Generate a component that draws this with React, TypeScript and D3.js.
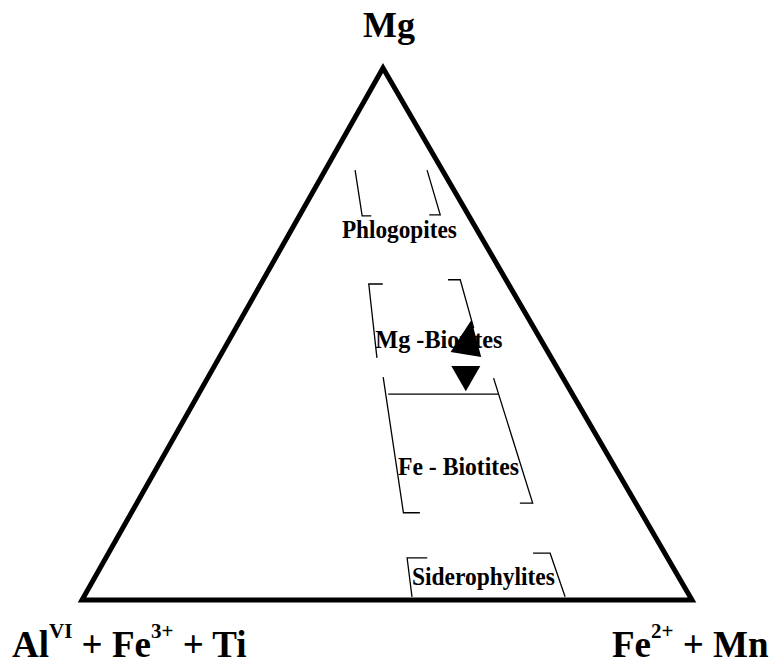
import React from 'react';
import * as d3 from 'd3';

const W = 775;
const H = 664;

// Ternary compositions in percent: [Mg, Fe2+ + Mn]; AlVI + Fe3+ + Ti = 100 - Mg - Fe
const phlogopitesLeft = [[80.8, 4.9], [72.2, 10.3], [72.2, 11.8]];
const phlogopitesRight = [[80.8, 16.7], [72.4, 23.0], [72.4, 21.2]];
const mgBiotitesLeft = [[59.4, 20.0], [59.4, 17.7], [45.5, 25.9]];
const mgBiotitesRight = [[60.2, 30.3], [60.2, 32.3], [51.1, 39.0]];
const mgFeBoundary = [[38.7, 31.1], [38.7, 49.1]];
const feBiotitesLeft = [[41.9, 28.7], [16.4, 44.6], [16.4, 47.3]];
const feBiotitesRight = [[41.7, 46.9], [18.2, 64.9], [18.2, 62.8]];
const siderophylitesLeft = [[7.9, 52.7], [7.9, 49.4], [0.6, 53.8]];
const siderophylitesRight = [[8.8, 69.6], [8.8, 72.4], [0.6, 78.9]];

const regionNames = ['Phlogopites', 'Mg -Biotites', 'Fe - Biotites', 'Siderophylites'];
const regionLabelMg = [68.0, 47.4, 23.5, 2.8];
const regionLabelFe = [9.05, 24.7, 40.2, 52.7];

// samples: [Mg, Fe]
const sampleMg = [48.3, 42.4];
const sampleFe = [39.4, 42.0];
const sampleDir = ['up', 'down'];

// Vertex pixel positions (layout)
const LEFT = { x: 82, y: 600 };
const RIGHT = { x: 692, y: 600 };
const TOP = { x: 383, y: 68 };

const yMg = d3.scaleLinear().domain([0, 100]).range([LEFT.y, TOP.y]);
const xMg = d3.scaleLinear().domain([0, 100]).range([0, TOP.x - LEFT.x]);
const xFe = d3.scaleLinear().domain([0, 100]).range([LEFT.x, RIGHT.x]);

const proj = (mg: number, fe: number): [number, number] => [xFe(fe) + xMg(mg), yMg(mg)];

const line = d3.line<number[]>().x((d) => proj(d[0], d[1])[0]).y((d) => proj(d[0], d[1])[1]);

const brackets = [
  phlogopitesLeft, phlogopitesRight,
  mgBiotitesLeft, mgBiotitesRight,
  mgFeBoundary,
  feBiotitesLeft, feBiotitesRight,
  siderophylitesLeft, siderophylitesRight,
];

const labelWidths = [115, 127, 121, 143];

const FONT = '"Liberation Serif", "Times New Roman", Times, serif';

export default function App() {
  const outline = [[100, 0], [0, 0], [0, 100]];
  const triPath = line(outline) + 'Z';

  const upSym = d3.symbol().type(d3.symbolTriangle).size(416)() as string;
  const downSym = d3.symbol().type(d3.symbolTriangle).size(364)() as string;

  const top = proj(100, 0);
  const left = proj(0, 0);
  const right = proj(0, 100);

  return (
    <svg
      width={W}
      height={H}
      style={{ position: 'absolute', left: 0, top: 0, background: '#fff' }}
      fontFamily={FONT}
      fontWeight="bold"
    >
      <rect x={0} y={0} width={W} height={H} fill="#fff" />
      <path d={triPath} fill="none" stroke="#000" strokeWidth={5} strokeLinejoin="miter" />
      {brackets.map((b, i) => (
        <path key={i} d={line(b) as string} fill="none" stroke="#000" strokeWidth={1.3} />
      ))}
      {regionNames.map((name, i) => {
        const [x, y] = proj(regionLabelMg[i], regionLabelFe[i]);
        return (
          <text key={name} x={x} y={y} fontSize={25} textLength={labelWidths[i]} lengthAdjust="spacingAndGlyphs" fill="#000">
            {name}
          </text>
        );
      })}
      {sampleMg.map((mg, i) => {
        const [x, y] = proj(mg, sampleFe[i]);
        const t = sampleDir[i] === 'up'
          ? `translate(${x},${y}) rotate(9) scale(1,1.3)`
          : `translate(${x},${y}) rotate(180)`;
        return <path key={i} d={sampleDir[i] === 'up' ? upSym : downSym} transform={t} fill="#000" />;
      })}
      <text x={top[0] + 6} y={top[1] - 31} fontSize={36} textAnchor="middle" fill="#000">Mg</text>
      <text x={left[0] - 70} y={left[1] + 57} fontSize={37} fill="#000">
        Al<tspan fontSize={21} dy={-19}>VI</tspan>
        <tspan dy={19}> + Fe</tspan>
        <tspan fontSize={21} dy={-19}>3+</tspan>
        <tspan dy={19}> + Ti</tspan>
      </text>
      <text x={right[0] - 80} y={right[1] + 57} fontSize={37} fill="#000">
        Fe<tspan fontSize={21} dy={-19}>2+</tspan>
        <tspan dy={19}> + Mn</tspan>
      </text>
    </svg>
  );
}
